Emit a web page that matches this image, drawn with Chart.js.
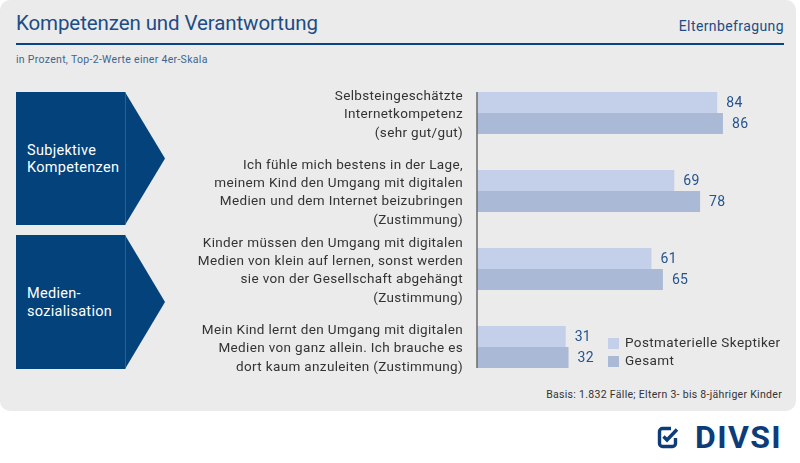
<!DOCTYPE html>
<html>
<head>
<meta charset="utf-8">
<script src="https://cdn.jsdelivr.net/npm/chart.js@4.4.0/dist/chart.umd.min.js"></script>
<style>
html, body { margin: 0; padding: 0; background: #fff; }
body { width: 800px; height: 463px; position: relative; overflow: hidden; font-family: Roboto, "DejaVu Sans", sans-serif; }
.panel { position: absolute; left: 0; top: 0; width: 796px; height: 411px; background: #ebebeb; border-radius: 10px; }
.title { position: absolute; left: 16px; top: 11px; font-size: 20.5px; color: #1c4d86; white-space: nowrap; letter-spacing: -0.1px; }
.survey { position: absolute; right: 16px; top: 18px; font-size: 14px; color: #1c4d86; letter-spacing: 0.4px; }
.rule { position: absolute; left: 16px; top: 43px; width: 768px; height: 1.5px; background: #0b4387; }
.sub { position: absolute; left: 16px; top: 53px; font-size: 10.5px; color: #40658f; white-space: nowrap; letter-spacing: 0.3px; }
.chev { position: absolute; left: 16px; width: 149px; background: #03427a;
        clip-path: polygon(0 0, 109px 0, 149px 50%, 109px 100%, 0 100%); }
.chev::after { content: ""; position: absolute; left: 109px; top: 0; bottom: 0; width: 1px; background: #2a6096; }
.chev span { position: absolute; left: 11px; top: 50%; transform: translateY(-50%); color: #fff; font-size: 14.5px; line-height: 17.5px; letter-spacing: 0.3px; }
.basis { position: absolute; right: 18px; top: 388px; font-size: 10.5px; color: #333; white-space: nowrap; letter-spacing: 0.3px; }
.logo { position: absolute; left: 657px; top: 423px; height: 28px; }
.logo svg { position: absolute; left: 0; top: 3px; }
.logo b { position: absolute; left: 38px; top: -5px; font-size: 32px; font-weight: bold; color: #0c3d7a; letter-spacing: 1.4px; }
canvas { position: absolute; left: 0; top: 0; }
</style>
</head>
<body>
<div class="panel"></div>
<div class="title">Kompetenzen und Verantwortung</div>
<div class="survey">Elternbefragung</div>
<div class="rule"></div>
<div class="sub">in Prozent, Top-2-Werte einer 4er-Skala</div>
<div class="chev" style="top:92px;height:133px;"><span>Subjektive<br>Kompetenzen</span></div>
<div class="chev" style="top:235px;height:134px;"><span>Medien-<br>sozialisation</span></div>
<div class="basis">Basis: 1.832 Fälle; Eltern 3- bis 8-jähriger Kinder</div>
<div class="logo">
  <svg width="22" height="23" viewBox="0 0 22 23">
    <path d="M14 2.5 H5.5 a3 3 0 0 0 -3 3 V17.5 a3 3 0 0 0 3 3 H15.5 a3 3 0 0 0 3 -3 V12" fill="none" stroke="#0c3d7a" stroke-width="3.4"/>
    <path d="M6.5 10.5 L10 14 L20 3.5" fill="none" stroke="#0c3d7a" stroke-width="3.4"/>
  </svg>
  <b>DIVSI</b>
</div>
<canvas id="chart" width="800" height="463"></canvas>
<script>
const categories = [
    ['Selbsteingeschätzte', 'Internetkompetenz', '(sehr gut/gut)'],
    ['Ich fühle mich bestens in der Lage,', 'meinem Kind den Umgang mit digitalen', 'Medien und dem Internet beizubringen', '(Zustimmung)'],
    ['Kinder müssen den Umgang mit digitalen', 'Medien von klein auf lernen, sonst werden', 'sie von der Gesellschaft abgehängt', '(Zustimmung)'],
    ['Mein Kind lernt den Umgang mit digitalen', 'Medien von ganz allein. Ich brauche es', 'dort kaum anzuleiten (Zustimmung)']
];
const postmaterielle = [84, 69, 61, 31];
const gesamt = [86, 78, 65, 32];
const seriesNames = ['Postmaterielle Skeptiker', 'Gesamt'];

// wider letter spacing, closer to the DIN look of the original
const spacing = {
    id: 'spacing',
    beforeDraw(chart) {
        chart.ctx.letterSpacing = '0.35px';
    }
};

// value labels right of the bars
const valueLabels = {
    id: 'valueLabels',
    afterDatasetsDraw(chart) {
        const ctx = chart.ctx;
        ctx.save();
        ctx.letterSpacing = '0.3px';
        ctx.font = '14px Roboto';
        ctx.fillStyle = '#24548d';
        ctx.textBaseline = 'middle';
        ctx.textAlign = 'left';
        chart.data.datasets.forEach(function (ds, i) {
            chart.getDatasetMeta(i).data.forEach(function (bar, j) {
                ctx.fillText(ds.data[j], bar.x + 9, bar.y + 1);
            });
        });
        ctx.restore();
    }
};

// vertical axis line, only as tall as the bars
const axisLine = {
    id: 'axisLine',
    afterDatasetsDraw(chart) {
        const first = chart.getDatasetMeta(0).data[0];
        const lastMeta = chart.getDatasetMeta(chart.data.datasets.length - 1).data;
        const last = lastMeta[lastMeta.length - 1];
        const ctx = chart.ctx;
        ctx.save();
        ctx.strokeStyle = '#6b6b6b';
        ctx.lineWidth = 1.5;
        ctx.beginPath();
        ctx.moveTo(chart.chartArea.left, first.y - first.height / 2);
        ctx.lineTo(chart.chartArea.left, last.y + last.height / 2);
        ctx.stroke();
        ctx.restore();
    }
};

// legend inside the plot, bottom right
const boxLegend = {
    id: 'boxLegend',
    afterDraw(chart) {
        const ctx = chart.ctx;
        ctx.save();
        ctx.letterSpacing = '0.4px';
        ctx.font = '13.5px Roboto';
        ctx.textBaseline = 'middle';
        chart.data.datasets.forEach(function (ds, i) {
            const y = 343.5 + i * 18;
            ctx.fillStyle = ds.backgroundColor;
            ctx.fillRect(608, y - 5.5, 11, 11);
            ctx.fillStyle = '#333';
            ctx.fillText(ds.label, 625, y + 0.5);
        });
        ctx.restore();
    }
};

new Chart(document.getElementById('chart').getContext('2d'), {
    type: 'bar',
    data: {
        labels: categories,
        datasets: [
            { label: seriesNames[0], data: postmaterielle, backgroundColor: '#c4d0e9' },
            { label: seriesNames[1], data: gesamt, backgroundColor: '#aab9d6' }
        ]
    },
    options: {
        indexAxis: 'y',
        responsive: false,
        animation: false,
        layout: { padding: { top: 74, bottom: 77, left: 0, right: 37 } },
        datasets: { bar: { categoryPercentage: 0.54, barPercentage: 1, borderWidth: 0 } },
        plugins: { legend: { display: false }, tooltip: { enabled: false } },
        scales: {
            x: { display: false, min: 0, max: 100 },
            y: {
                grid: { display: false, drawTicks: false },
                border: { display: false },
                ticks: { padding: 14, labelOffset: 2, color: '#333', font: { family: 'Roboto', size: 13.5, lineHeight: 1.35 } },
                afterFit: function (scale) { scale.width = 477; }
            }
        }
    },
    plugins: [spacing, valueLabels, axisLine, boxLegend]
});
</script>
</body>
</html>
